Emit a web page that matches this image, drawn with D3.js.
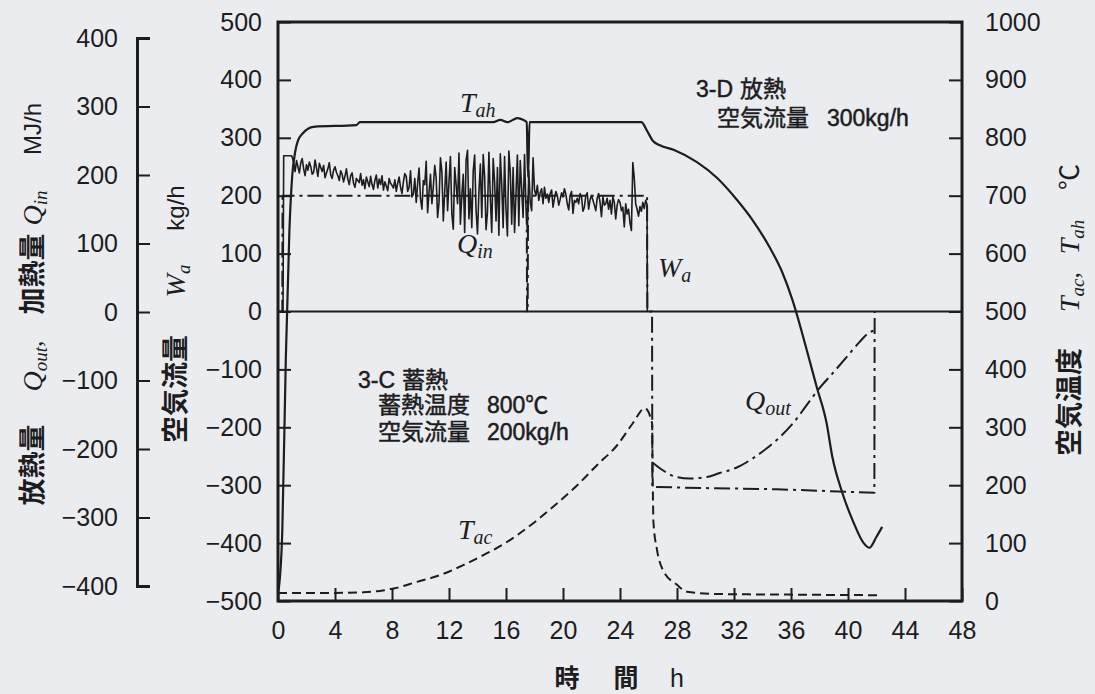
<!DOCTYPE html>
<html>
<head>
<meta charset="utf-8">
<script src="https://cdn.jsdelivr.net/npm/d3@7"></script>
<style>
  html, body { margin: 0; padding: 0; background: #ebecef; }
  svg { display: block; }
</style>
</head>
<body>
<svg id="chart" width="1095" height="694"></svg>
<script>
// ---- axis ticks ----
const timeTicks = [0, 4, 8, 12, 16, 20, 24, 28, 32, 36, 40, 44, 48];
const flowTicks = [-500, -400, -300, -200, -100, 0, 100, 200, 300, 400, 500];
const heatTicks = [-400, -300, -200, -100, 0, 100, 200, 300, 400];
const tempTicks = [0, 100, 200, 300, 400, 500, 600, 700, 800, 900, 1000];

// ---- T_ah : heater outlet air temperature [h, °C] ----
const tempHeaterOut = [
  [0.05, 20], [0.3, 120], [0.55, 420], [0.8, 640], [1.0, 735], [1.2, 775],
  [1.4, 795], [1.75, 808], [2.5, 819], [5.5, 822], [5.75, 827], [15.1, 827],
  [15.6, 831], [16.1, 827], [16.8, 834], [17.2, 831], [17.45, 827], [17.55, 732],
  [17.65, 827], [25.5, 827], [25.9, 812], [26.3, 795], [26.8, 787], [27.8, 779],
  [29.4, 758], [30.8, 731], [32.2, 693], [33.3, 658], [34.5, 611], [35.4, 567],
  [36.1, 520], [37.1, 434], [37.8, 370], [38.5, 307], [38.9, 249], [39.6, 187],
  [40.4, 135], [41.1, 100], [41.5, 92], [42.0, 111], [42.4, 128]
];

// ---- T_ac : accumulator outlet air temperature [h, °C] ----
const tempAccumOut = [
  [0, 14], [4, 14], [6, 15], [7, 17], [8.2, 22], [9.75, 33], [11.4, 45],
  [13.0, 62], [14.7, 83], [15.4, 92], [16.8, 114], [18.2, 140], [19.6, 169],
  [21.0, 200], [22.4, 235], [23.8, 269], [24.9, 307], [25.75, 333], [26.25, 307],
  [26.3, 200], [26.35, 135], [26.6, 88], [27.0, 54], [28.0, 28], [28.7, 16],
  [31, 12], [36, 11], [42.2, 10]
];

// ---- W_a : air flow rate [h, kg/h] (discharge flow is negative) ----
const airFlow = [
  [0, 0], [0.3, 0], [0.32, 200], [17.45, 200], [17.48, 0], [17.52, 0],
  [17.55, 200], [25.9, 200], [25.92, 0], [26.25, 0], [26.27, -303],
  [30, -305], [35, -307], [41.85, -313], [41.87, 0]
];

// ---- Q_in : heater input [MJ/h], logged every 0.1 h from 1.0 h ----
const heatInStart = 1.0;
const heatInStep = 0.1;
const heatInHead = [[0, 0], [0.35, 0], [0.4, 228], [0.95, 228]];
const heatInRecord = [
  226, 218, 205, 221, 212, 203, 218, 224, 209, 199,
  215, 207, 219, 212, 201, 204, 222, 210, 198, 217,
  211, 205, 214, 196, 203, 209, 218, 200, 195, 207,
  212, 204, 199, 192, 206, 201, 190, 198, 209, 194,
  186, 199, 203, 188, 182, 195, 192, 189, 202, 185,
  193, 180, 197, 190, 183, 198, 186, 179, 192, 200,
  181, 194, 186, 199, 178, 190, 184, 177, 195, 188,
  185, 181, 193, 176, 188, 197, 182, 173, 190, 202,
  198, 176, 182, 206, 168, 172, 195, 160, 188, 210,
  165, 150, 192, 186, 220, 145, 175, 201, 158, 183,
  214, 196, 138, 160, 225, 205, 133, 176, 219, 148,
  190, 227, 143, 121, 211, 186, 158, 232, 128, 170,
  201, 116, 222, 236, 136, 180, 123, 206, 229, 148,
  114, 175, 216, 138, 230, 198, 120, 146, 233, 168,
  116, 224, 190, 133, 211, 112, 231, 186, 123, 227,
  150, 111, 235, 204, 128, 211, 116, 172, 229, 126,
  221, 180, 138, 230, 155, 118, 207, 160, 148, 225,
  178, 170, 185, 163, 174, 180, 158, 182, 166, 172,
  160, 173, 178, 153, 166, 176, 170, 156, 164, 174,
  168, 180, 172, 158, 149, 170, 176, 144, 163, 160,
  166, 158, 173, 168, 147, 153, 170, 174, 150, 164,
  170, 163, 156, 148, 166, 173, 160, 139, 168, 156,
  158, 166, 150, 163, 143, 168, 160, 136, 156, 164,
  160, 148, 153, 124, 158, 143, 150, 130, 119, 218,
  196, 158, 150, 140, 154, 147, 160, 151, 163, 157
];
const heatInTail = [[25.92, 0]];

// ---- Q_out : heat released [MJ/h] (negative) ----
const heatOut = [
  [26.3, -220], [27.0, -231], [28.0, -241], [28.9, -243], [30.1, -241],
  [31.0, -235], [32.2, -227], [33.3, -214], [34.3, -199], [35.2, -183],
  [36.2, -161], [37.1, -136], [38.0, -111], [38.9, -90], [39.9, -66],
  [40.8, -44], [41.5, -30], [41.85, -27]
];

// ---------------------------------------------------------------
const ink = "#1d1d1f";
const sans = "'Liberation Sans', Arial, 'Noto Sans CJK JP', sans-serif";
const cjk = "'Liberation Sans', 'Noto Sans CJK JP', sans-serif";
const serif = "'Liberation Serif', 'Times New Roman', serif";

const svg = d3.select("#chart");
svg.append("rect").attr("width", 1095).attr("height", 694).attr("fill", "#ebecef");

const x  = d3.scaleLinear().domain([0, 48]).range([278, 962]);
const yW = d3.scaleLinear().domain([-500, 500]).range([601, 22]);
const yT = d3.scaleLinear().domain([0, 1000]).range([601, 22]);
const yQ = d3.scaleLinear().domain([-400, 400]).range([586, 38]);
const plain = d3.format("d");

function styleAxis(g, size) {
  g.attr("font-family", sans).attr("font-size", size);
  g.selectAll(".tick line").attr("stroke", ink).attr("stroke-width", 2);
  g.selectAll(".tick text").attr("fill", ink);
}

// inner left axis: air flow
svg.append("g").attr("transform", "translate(278,0)")
  .call(d3.axisLeft(yW).tickValues(flowTicks).tickFormat(plain).tickSize(-13).tickPadding(16))
  .call(g => g.select(".domain").remove())
  .call(g => styleAxis(g, 25));

// right axis: temperature
svg.append("g").attr("transform", "translate(962,0)")
  .call(d3.axisRight(yT).tickValues(tempTicks).tickFormat(plain).tickSize(-13).tickPadding(23))
  .call(g => g.select(".domain").remove())
  .call(g => styleAxis(g, 25));

// bottom axis: time
svg.append("g").attr("transform", "translate(0,601)")
  .call(d3.axisBottom(x).tickValues(timeTicks).tickFormat(plain).tickSize(-13).tickPadding(20))
  .call(g => g.select(".domain").remove())
  .call(g => styleAxis(g, 25));

// outer left axis: heat rate
svg.append("g").attr("transform", "translate(137,0)")
  .call(d3.axisLeft(yQ).tickValues(heatTicks).tickFormat(plain).tickSize(-13).tickSizeOuter(-13).tickPadding(19))
  .call(g => g.select(".domain").attr("stroke", ink).attr("stroke-width", 3))
  .call(g => styleAxis(g, 25));

// zero line
svg.append("line")
  .attr("x1", x(0)).attr("x2", x(48)).attr("y1", yW(0)).attr("y2", yW(0))
  .attr("stroke", ink).attr("stroke-width", 2);

// ---- series ----
const smooth = d3.curveMonotoneX;

function drawSeries(data, yScale, curve, width, dash) {
  const line = d3.line().x(d => x(d[0])).y(d => yScale(d[1])).curve(curve);
  svg.append("path").datum(data)
    .attr("d", line)
    .attr("fill", "none")
    .attr("stroke", ink)
    .attr("stroke-width", width)
    .attr("stroke-linejoin", "round")
    .attr("stroke-dasharray", dash || null);
}

const heatInData = heatInHead.concat(
  heatInRecord.map((q, i) => [heatInStart + i * heatInStep, q]),
  heatInTail
);

drawSeries(heatInData, yQ, d3.curveLinear, 1.6);
drawSeries(airFlow, yW, d3.curveLinear, 2, "16,5,3,5");
drawSeries(heatOut, yQ, smooth, 2, "16,5,3,5");
drawSeries(tempAccumOut, yT, smooth, 2, "9,5");
drawSeries(tempHeaterOut, yT, smooth, 2.2);

// frame
svg.append("rect")
  .attr("x", 278).attr("y", 22).attr("width", 684).attr("height", 579)
  .attr("fill", "none").attr("stroke", ink).attr("stroke-width", 3);

// ---- symbol labels (italic with subscript) ----
function symbol(px, py, main, sub) {
  const t = svg.append("text").attr("x", px).attr("y", py)
    .attr("font-family", serif).attr("font-style", "italic").attr("fill", ink);
  t.append("tspan").attr("font-size", 28).text(main);
  t.append("tspan").attr("font-size", 20).attr("dy", 5).text(sub);
  return t;
}
symbol(460, 112, "T", "ah");
symbol(457, 253, "Q", "in");
symbol(658, 277, "W", "a");
symbol(745, 410, "Q", "out");
symbol(458, 539, "T", "ac");

// ---- annotations ----
function note(px, py, first, second, secondX) {
  const t = svg.append("text").attr("x", px).attr("y", py)
    .attr("font-family", cjk).attr("font-size", 23).attr("fill", ink)
    .attr("stroke", ink).attr("stroke-width", 0.5);
  t.append("tspan").text(first);
  if (second) t.append("tspan").attr("x", secondX).text(second);
}
note(696, 97, "3-D", "放熱", 740);
note(717, 126, "空気流量", "300kg/h", 827);
note(358, 388, "3-C", "蓄熱", 402);
note(378, 413, "蓄熱温度", "800℃", 487);
note(378, 440, "空気流量", "200kg/h", 487);

// ---- axis titles ----
function vpiece(cx, cy, build) {
  const t = svg.append("text")
    .attr("transform", `translate(${cx},${cy}) rotate(-90)`)
    .attr("text-anchor", "middle").attr("fill", ink);
  build(t);
}
function cjkPiece(cx, cy, s) {
  vpiece(cx + 9, cy, t => t.attr("font-family", cjk).attr("font-size", 27).attr("font-weight", 700).text(s));
}
function symPiece(cx, cy, main, sub, tail) {
  vpiece(cx + 9, cy, t => {
    t.attr("font-family", serif).attr("font-style", "italic");
    t.append("tspan").attr("font-size", 28).text(main);
    t.append("tspan").attr("font-size", 19).attr("dy", 5).text(sub);
    if (tail) t.append("tspan").attr("font-size", 26).attr("dy", -5).attr("font-style", "normal").text(tail);
  });
}
function unitPiece(cx, cy, s) {
  vpiece(cx + 8, cy, t => t.attr("font-family", sans).attr("font-size", 24).text(s));
}

// left outer title
cjkPiece(33, 465, "放熱量");
symPiece(33, 366, "Q", "out", ",");
cjkPiece(33, 274, "加熱量");
symPiece(33, 208, "Q", "in");
unitPiece(33, 129, "MJ/h");

// inner left title
cjkPiece(176, 389, "空気流量");
symPiece(176, 281, "W", "a");
unitPiece(176, 208, "kg/h");

// right title
cjkPiece(1070, 402, "空気温度");
symPiece(1070, 292, "T", "ac", ",");
symPiece(1070, 237, "T", "ah");
vpiece(1079, 177, t => t.attr("font-family", cjk).attr("font-size", 26).text("℃"));

// bottom title
const xt = svg.append("text").attr("y", 687).attr("font-family", cjk)
  .attr("font-size", 25).attr("font-weight", 700).attr("fill", ink).attr("text-anchor", "middle");
xt.append("tspan").attr("x", 567).text("時");
xt.append("tspan").attr("x", 626).text("間");
xt.append("tspan").attr("x", 677).attr("font-weight", 400).text("h");
</script>
</body>
</html>
